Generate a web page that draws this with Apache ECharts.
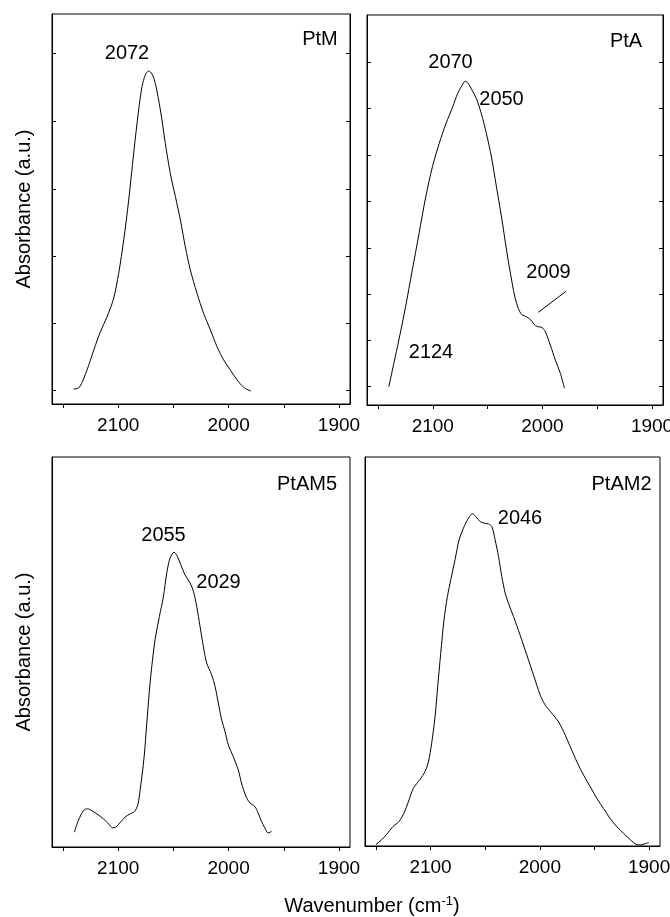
<!DOCTYPE html>
<html>
<head>
<meta charset="utf-8">
<script src="https://cdn.jsdelivr.net/npm/echarts@6/dist/echarts.min.js"></script>
<style>html,body{margin:0;padding:0;background:#fff}#c{width:670px;height:917px}</style>
</head>
<body>
<div id="c"></div>
<script>
// ---- data (wavenumber in cm-1, absorbance in arbitrary units, 0-100 of panel height) ----
const panelNames = ['PtM', 'PtA', 'PtAM5', 'PtAM2'];
const xTickValues = [2150, 2100, 2050, 2000, 1950, 1900];
const xLabelValues = [2100, 2000, 1900];
const p1YTicks = [3.4, 20.7, 37.9, 55.1, 72.4, 89.9];
const p2YTicks = [4.7, 16.6, 28.4, 40.3, 52.2, 64.1, 76.0, 87.8];

const p1Wn = [2140.3,2135.2,2128.3,2122.2,2116.2,2110.1,2104.1,2099.6,2095.0,2090.5,2086.0,2081.5,2078.4,2075.4,2072.4,2069.4,2066.4,2061.8,2057.3,2052.8,2048.2,2043.7,2039.2,2034.7,2028.6,2022.6,2016.5,2010.5,2004.5,1998.4,1992.4,1986.4,1979.7];
const p1Abs = [3.8,4.3,8.7,13.8,18.5,22.4,27.1,33.5,42.1,52.3,64.3,75.4,81.4,84.4,85.4,84.6,82.2,75.4,66.8,59.1,53.2,47.2,40.3,34.4,28.4,23.2,19.0,14.7,11.3,8.7,6.2,4.3,3.3];

const p2Wn = [2140.1,2135.5,2130.9,2124.8,2118.7,2112.5,2106.4,2100.3,2094.1,2087.9,2081.9,2077.3,2073.2,2070.4,2068.0,2064.9,2060.3,2055.7,2051.1,2046.5,2041.9,2037.3,2032.7,2029.7,2025.1,2022.0,2018.9,2014.3,2010.6,2007.6,2004.5,2000.5,1997.4,1992.8,1988.2,1983.6,1979.9];
const p2Abs = [4.7,10.7,16.7,25.2,34.6,44.0,53.4,61.1,67.1,72.2,76.4,79.9,82.0,83.0,82.6,81.1,78.6,74.7,69.6,63.6,55.9,48.2,39.7,34.6,27.7,24.8,23.2,22.6,21.8,20.7,20.1,19.9,18.8,15.4,11.5,8.1,4.3];

const p3Wn = [2139.8,2135.8,2131.3,2127.7,2123.8,2118.4,2113.3,2108.7,2105.1,2102.1,2098.2,2093.7,2089.2,2085.2,2082.2,2080.1,2076.5,2074.1,2071.7,2069.6,2066.6,2062.7,2059.0,2056.0,2053.0,2049.4,2046.4,2043.4,2039.5,2034.9,2031.9,2028.9,2025.9,2022.9,2019.9,2015.4,2012.3,2009.3,2006.3,2003.3,2000.3,1995.8,1991.3,1988.3,1984.3,1980.7,1976.2,1973.2,1970.2,1967.2,1964.2,1961.1];
const p3Abs = [3.8,7.0,9.4,9.8,9.3,8.3,7.2,5.9,4.9,5.1,6.3,7.7,8.5,9.1,10.9,14.7,23.2,31.8,40.3,46.3,53.2,59.1,64.3,70.3,74.1,75.6,74.5,72.4,69.8,67.7,65.6,61.7,56.6,51.5,47.2,44.2,41.2,36.9,32.6,29.7,26.2,23.2,19.8,16.4,13.0,11.3,10.4,8.7,6.6,4.9,3.6,4.0];

const p4Wn = [2150.0,2144.8,2140.2,2134.7,2128.6,2124.3,2120.4,2115.8,2109.7,2105.1,2102.0,2099.0,2095.9,2093.5,2090.7,2087.7,2084.6,2081.2,2077.6,2073.9,2069.9,2065.3,2061.7,2058.6,2054.6,2051.0,2047.0,2043.9,2040.9,2037.8,2034.8,2031.7,2028.7,2024.1,2018.0,2011.9,2005.7,1999.6,1995.0,1988.9,1982.8,1978.2,1972.1,1966.0,1959.9,1953.8,1947.7,1941.6,1935.5,1929.3,1923.2,1917.1,1911.6,1907.9,1903.4,1900.3];
const p4Abs = [0.4,1.6,3.0,4.9,6.4,8.5,11.3,14.8,17.1,19.1,21.6,26.4,33.2,40.9,49.5,58.1,64.1,68.8,73.6,78.7,81.7,84.3,85.4,84.7,83.4,83.0,82.8,82.1,78.7,74.4,69.3,65.0,62.4,59.0,54.2,49.1,43.9,38.8,36.2,34.1,31.9,29.4,25.5,21.6,18.2,15.2,12.2,9.6,7.0,4.9,3.2,1.6,0.4,0.3,0.6,0.9];

const peakLabels1 = ['2072'];
const peakLabels2 = ['2070', '2050', '2009', '2124'];
const peakLabels3 = ['2055', '2029'];
const peakLabels4 = ['2046'];

// ---- chart ----
const FONT = "'Liberation Sans', Arial, Helvetica, sans-serif";
const zip = (a, b) => a.map((v, i) => [v, b[i]]);

const grids = [
  {left: 52, top: 14, width: 298, height: 390},
  {left: 367, top: 15, width: 296, height: 390},
  {left: 52, top: 457, width: 298, height: 390},
  {left: 365, top: 457, width: 295, height: 389}
].map(g => Object.assign({show: true, borderColor: '#000', borderWidth: 1, backgroundColor: 'transparent', containLabel: false, outerBoundsMode: 'none'}, g));

const xAxes = grids.map((g, i) => ({
  type: 'value', gridIndex: i, min: 1890, max: 2160, inverse: true,
  axisLine: {show: true, lineStyle: {color: '#000', width: 1}},
  axisTick: {show: true, inside: false, length: 4, lineStyle: {color: '#000'}, customValues: xTickValues},
  axisLabel: {show: true, customValues: xLabelValues, formatter: v => String(v), color: '#000', fontSize: 19, fontFamily: FONT, margin: 12},
  splitLine: {show: false}
}));

function yAx(gi, pos, ticks, name) {
  const ax = {
    type: 'value', gridIndex: gi, min: 0, max: 100, position: pos,
    axisLine: {show: true, lineStyle: {color: '#000', width: 1}},
    axisTick: {show: !!ticks, inside: true, length: 4, lineStyle: {color: '#000'}},
    axisLabel: {show: false},
    splitLine: {show: false}
  };
  if (ticks) ax.axisTick.customValues = ticks;
  if (name) {
    ax.name = name; ax.nameLocation = 'middle'; ax.nameRotate = 90; ax.nameGap = 18;
    ax.nameTextStyle = {color: '#000', fontSize: 20, fontFamily: FONT};
  }
  return ax;
}
const yAxes = [
  yAx(0, 'left', p1YTicks, 'Absorbance (a.u.)'),
  yAx(0, 'right', p1YTicks),
  yAx(1, 'left', p2YTicks),
  yAx(1, 'right', p2YTicks),
  yAx(2, 'left', null, 'Absorbance (a.u.)'),
  yAx(3, 'left', null)
];

const lineSeries = (xi, yi, wn, ab) => ({
  type: 'line', xAxisIndex: xi, yAxisIndex: yi, data: zip(wn, ab),
  showSymbol: false, smooth: 0.3, lineStyle: {color: '#000', width: 1}, silent: true, animation: false
});

const txt = (x, y, s) => ({
  type: 'text', x: x, y: y,
  style: {text: s, fill: '#000', font: '20px ' + FONT, align: 'center', verticalAlign: 'middle'}
});

const option = {
  animation: false,
  backgroundColor: '#fff',
  grid: grids,
  xAxis: xAxes,
  yAxis: yAxes,
  series: [
    lineSeries(0, 0, p1Wn, p1Abs),
    lineSeries(1, 2, p2Wn, p2Abs),
    lineSeries(2, 4, p3Wn, p3Abs),
    lineSeries(3, 5, p4Wn, p4Abs)
  ],
  graphic: [
    txt(320, 39.5, panelNames[0]),
    txt(127, 53.5, peakLabels1[0]),
    txt(626, 41, panelNames[1]),
    txt(450.5, 62, peakLabels2[0]),
    txt(501.5, 99, peakLabels2[1]),
    txt(548.5, 272, peakLabels2[2]),
    txt(431, 352, peakLabels2[3]),
    {type: 'line', shape: {x1: 538.3, y1: 312.3, x2: 566, y2: 291.3}, style: {stroke: '#000', lineWidth: 1}},
    txt(307, 484, panelNames[2]),
    txt(163.5, 535, peakLabels3[0]),
    txt(218.5, 582.5, peakLabels3[1]),
    txt(621.5, 484, panelNames[3]),
    txt(520, 518, peakLabels4[0]),
    {
      type: 'text', x: 372, y: 906,
      style: {
        text: '{a|Wavenumber (cm}{s|-1}{a|)}',
        align: 'center', verticalAlign: 'middle', fill: '#000',
        rich: {
          a: {fontSize: 20, fontFamily: FONT, fill: '#000', lineHeight: 22},
          s: {fontSize: 13, fontFamily: FONT, fill: '#000', verticalAlign: 'top', lineHeight: 22}
        }
      }
    }
  ]
};

const chart = echarts.init(document.getElementById('c'), null, {renderer: 'canvas'});
chart.setOption(option);
</script>
</body>
</html>
